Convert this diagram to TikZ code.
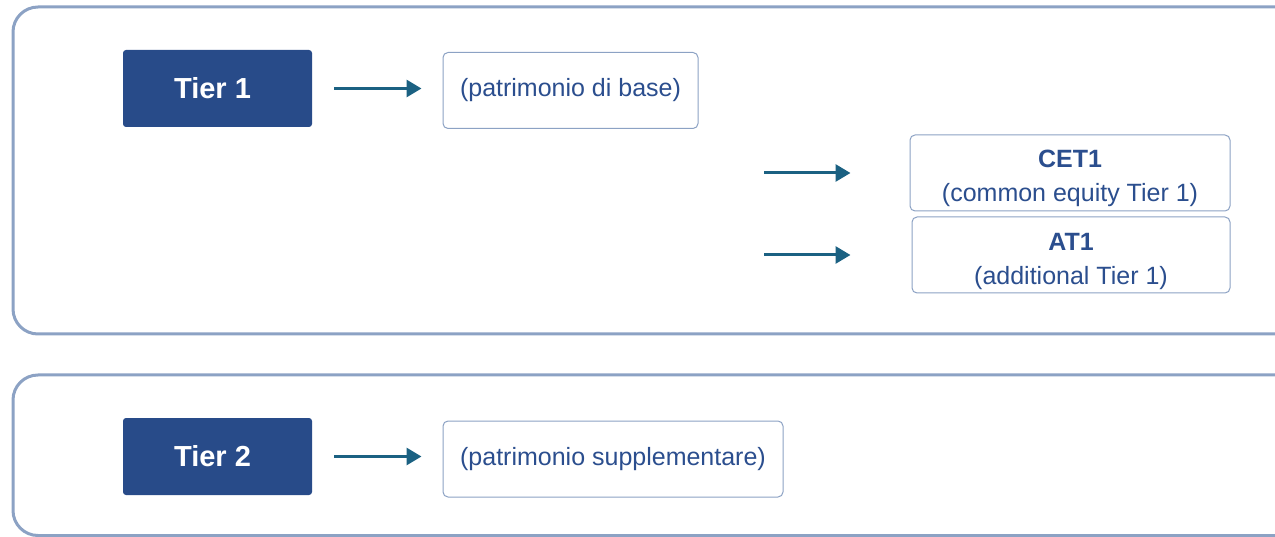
\documentclass[tikz,border=0pt]{standalone}
\usepackage{fontspec}
\setmainfont{Liberation Sans}
\usetikzlibrary{arrows.meta,calc}
\definecolor{tierfill}{HTML}{284B89}
\definecolor{arrowcol}{HTML}{1B6182}
\definecolor{txtcol}{HTML}{2B4E8E}
\definecolor{framecol}{HTML}{8CA2C4}
\tikzset{
  tierbox/.style={fill=tierfill, draw=none, rounded corners=3pt, minimum width=189pt, minimum height=77pt, inner sep=0pt,
    text=white, font=\fontsize{29pt}{34pt}\selectfont\bfseries},
  infobox/.style={draw=framecol, line width=1pt, fill=white, rounded corners=5pt, minimum height=76pt, inner sep=0pt,
    text=txtcol, align=center, font=\fontsize{25pt}{33pt}\selectfont},
  boxtext/.style={inner sep=0pt, text=txtcol, align=center, font=\fontsize{25pt}{34pt}\selectfont},
  outerframe/.style={draw=framecol, line width=3pt, rounded corners=25pt},
  conn/.style={draw=arrowcol, line width=3pt, -{Triangle[length=15pt,width=17pt]}},
}
\begin{document}
\begin{tikzpicture}[x=1pt,y=-1pt]
\useasboundingbox (0,0) rectangle (1275,537);
\begin{scope}
\clip (0,0) rectangle (1275,537);
\draw[outerframe] (13,7) rectangle (1320,334);
\draw[outerframe] (13,375) rectangle (1320,535.5);
\end{scope}

\node[tierbox] (t1) at (217.5,88.5) {\hspace*{-10pt}Tier 1};
\node[infobox, minimum width=255pt] (base) at (570.5,90.5) {(patrimonio di base)};
\node[infobox, minimum width=320pt] (cet) at (1070,173) {};
\node[boxtext, yshift=-5.5pt] (cettxt) at (cet) {\textbf{CET1}\\(common equity Tier 1)};
\node[infobox, minimum width=318pt] (at) at (1071,255) {};
\node[boxtext, yshift=-6.5pt] (attxt) at (at) {\textbf{AT1}\\(additional Tier 1)};
\node[tierbox] (t2) at (217.5,456.5) {\hspace*{-10pt}Tier 2};
\node[infobox, minimum width=340pt] (supp) at (613,459) {(patrimonio supplementare)};

\coordinate (cs) at (764,173);
\coordinate (as) at (764,255);

\draw[conn, shorten <=22pt, shorten >=21pt] (t1.east) -- (t1.east -| base.west);
\draw[conn, shorten <=22pt, shorten >=21pt] (t2.east) -- (t2.east -| supp.west);
\draw[conn, shorten >=59pt] (cs) -- (cet.west);
\draw[conn, shorten >=61pt] (as) -- (at.west);
\end{tikzpicture}
\end{document}
